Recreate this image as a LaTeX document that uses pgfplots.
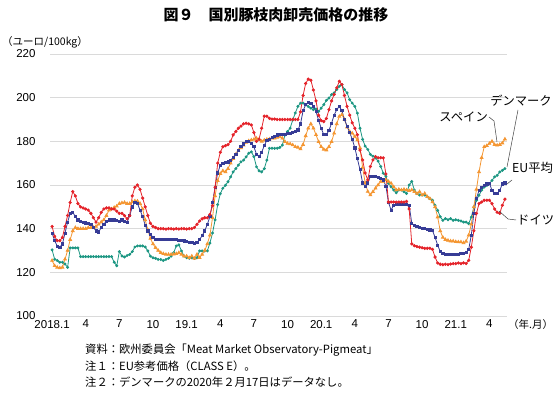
\documentclass[border=0pt]{standalone}
\usepackage{fontspec}
\setmainfont{Liberation Sans}
\newfontfamily\cjk{Noto Sans CJK JP}
\usepackage{pgfplots}
\pgfplotsset{compat=1.18}
\usepackage{pgfplotstable}
\definecolor{cde}{RGB}{228,35,42}
\definecolor{ceu}{RGB}{55,60,150}
\definecolor{ces}{RGB}{244,150,50}
\definecolor{cdk}{RGB}{28,150,130}
\definecolor{gridgray}{RGB}{218,218,218}
\pgfplotstableread{
w de eu es dk
0 141 138 125.4 130.3
1 136.5 134.5 123 126
2 134.5 132 122.3 125.4
3 134.5 131.5 122 124.6
4 136 133 122.3 124.6
5 141 138 126 123.8
6 146 143 130 122.3
7 152 147 135 131.2
8 157 147.5 139 131.2
9 155 145.5 140.5 131.2
10 151.5 144 140 131.2
11 150 143.5 140 127.2
12 149.5 143 140 127.2
13 149 142.6 140 127.2
14 148.5 142.5 140.5 127.2
15 147 142 140.5 127.2
16 145 140.5 140.5 127.2
17 143 139 141 127.2
18 145 138.5 142 127.2
19 147.5 140.5 143 127.2
20 149 142 144 127.2
21 149.5 143.5 146 127.2
22 149.5 144 148.5 127.2
23 149 144 149 127.2
24 149 144 149.7 124.6
25 148 143.8 150.3 123
26 147 143.5 151.5 129.5
27 147 144 151.8 127.5
28 146 143.5 152 127
29 144.5 143 151.5 127.7
30 146 146 151.5 128.2
31 155 150 152.2 129.5
32 159 152 152.7 131.6
33 160 151.5 152.6 132.1
34 158 148.5 151.5 132.1
35 154 145.5 149 132.1
36 150 141.5 144 131.6
37 146 139 139.5 129.8
38 142.5 137.5 135.5 127.4
39 141 136 133 126.7
40 140.5 135.2 131.3 126.4
41 140 135 130 125.9
42 140 135 129 125.9
43 140 135 128.5 125.4
44 139.8 135 128.2 125.9
45 140 134.9 128.2 126.4
46 140 134.9 128.2 127.4
47 139.8 135 128.3 129
48 140 134.9 128.5 132.1
49 139.8 134.8 129 132.6
50 140 134.7 128.2 129.8
51 140 134.4 127.4 127.4
52 139.8 134 127.4 126.7
53 140 133.7 126.7 126.4
54 140 133.6 127.4 126.7
55 140.5 133.3 126.4 126.4
56 142 133.6 128.2 126.7
57 143.5 135 126.7 129.8
58 144.5 136.8 128.2 129.8
59 145 139 130 129.8
60 145 142 133 129.8
61 146.5 145.5 137 133.4
62 150.5 152 145 138
63 159 159 155 144
64 170 165.5 162 151
65 175 169 165.2 156
66 177.5 169.8 166.5 158.5
67 178 170.2 166 159.9
68 178.5 170.6 167.5 161.5
69 180 171.4 170 163.7
70 183 172.6 172 166
71 184.5 174 174 167.5
72 186 175.8 175.8 169.1
73 187 177.5 177 170.6
74 188 178.8 178.2 171.4
75 188.3 179.8 179.5 172.9
76 188 179.8 180.2 174.5
77 187.5 179.2 180.6 175.2
78 184 177.5 180.9 173
79 180 174 181.4 168.3
80 181 173 180.8 166.5
81 186 175 180 166
82 191.5 178 180.5 167.5
83 191.5 180.5 180.9 171.4
84 190.5 181 181 176.8
85 190.2 181.8 181.4 176.8
86 190.2 182.4 181.4 176.8
87 190 182.9 181.8 176.8
88 190 183 182.2 177.2
89 190 183 181.4 178.3
90 190 183.2 179.8 182.9
91 190 183.7 179 184.5
92 190 183.7 178.8 186
93 190 184 178.3 189.8
94 190 184.5 177.5 193
95 190 185.2 177.2 196
96 193.5 188 176.5 197.5
97 201 194 178.5 197.5
98 206.5 196.8 182.5 196.8
99 208.5 197.8 186 196
100 208 197.5 188 195.2
101 203.5 196 186 194.5
102 198.5 193.7 183 194.8
103 192 189.5 179.8 193.7
104 189.5 186 177.5 195.2
105 189 183 176.3 196.8
106 190.5 183 176 198.8
107 194.5 185 177.5 199.8
108 198.5 188.3 179.8 201.4
109 201.5 192 183.7 202.2
110 204.5 194.5 188 203.7
111 207.5 196 191.4 205.2
112 206 194 192.2 206
113 201 190 190 203.7
114 196 187 186.5 202.2
115 192 184 184.5 199.1
116 188.5 181 183.7 197.5
117 186 177 182.2 196
118 183 172 180.6 192.9
119 176 167 177 186
120 171.5 161 168 180.9
121 165.5 159.5 161 177.8
122 162.3 161 157 176.3
123 168.5 163.9 155.4 174
124 171.5 163.9 156.9 173.2
125 173 163.9 158.5 172.4
126 172.5 163.6 160 170.9
127 172.5 163 161.6 168.5
128 172.4 162.3 161.6 165.4
129 165 159.5 162.3 163.9
130 152.2 152 161.6 160.8
131 152.2 148.5 160.8 159.2
132 152.2 150.7 159.2 157.7
133 152.2 151.2 157.7 156.4
134 152.2 151.2 158 157.7
135 152.2 151.2 157.7 157.7
136 152.2 151.2 158 156.9
137 152.5 151 157.7 156.1
138 149 150.7 157.4 160
139 133 142.5 157.7 161.6
140 132.2 141.4 156.9 157.7
141 131.8 140.9 156.1 156.1
142 131.5 140.6 156.9 155.4
143 131.3 140.3 155.4 155.4
144 131 140.3 156.1 155.4
145 131 139.8 154.6 154.6
146 131 139.4 153.8 153.8
147 130.5 139.2 152.2 153
148 127 136 150 150.7
149 124.3 132.5 145.3 148.4
150 123.7 129.5 139 145.5
151 123.5 128.5 136 143.8
152 123.7 128.2 135 144.6
153 123.5 128.2 134.6 144.1
154 123.8 128.2 134.3 144.6
155 124 128.3 134.3 143.8
156 124 128.2 134 144.1
157 124.3 128.3 133.9 143.8
158 124 128.5 133.9 143.5
159 124.3 128.5 133.5 143
160 124 129 134.2 143
161 125.5 130.5 137 142.3
162 131.5 137 142 145.3
163 139 147 150 149.9
164 147 154 158 153
165 151.5 157.5 166 155.3
166 152.2 159 172.5 157.6
167 153 159.8 177.5 159.1
168 153 160.5 178 159.8
169 153 160.9 179 160.6
170 151.5 157.5 180 162.1
171 149 156 178.5 163.7
172 147.5 156 178.2 164.4
173 147 157.5 178.5 166
174 150.7 160.5 179.2 166.7
175 153.5 161 181 167.5
}\data

\begin{document}
\begin{tikzpicture}[x=1pt,y=1pt]
\useasboundingbox (0,0) rectangle (558,393);
\begin{axis}[
  at={(50pt,77pt)}, anchor=south west,
  scale only axis, width=457pt, height=262pt,
  xmin=-0.8, xmax=175.8, ymin=100, ymax=220,
  axis line style={draw=none}, major tick length=0pt,
  ymajorgrids, grid style={color=gridgray, line width=0.9pt},
  ytick={100,120,...,220},
  xtick={0,13,...,169},
  xticklabels={2018.1,4,7,10,19.1,4,7,10,20.1,4,7,10,21.1,4},
  tick label style={font=\fontsize{11.5}{13}\selectfont},
  /pgf/number format/assume math mode=true,
  yticklabel style={xshift=-11pt},
  xticklabel style={yshift=-0.5pt},
  clip=false,
]
\addplot[cdk, line width=0.8pt, mark=*, mark size=1.05pt] table[x=w,y=dk]{\data};
\addplot[ces, line width=0.8pt, mark=triangle*, mark size=1.6pt] table[x=w,y=es]{\data};
\addplot[ceu, line width=0.8pt, mark=square*, mark size=1.1pt] table[x=w,y=eu]{\data};
\addplot[cde, line width=0.8pt, mark=*, mark size=1.2pt] table[x=w,y=de]{\data};
\end{axis}
% title and labels
\node at (276,378) {\cjk\bfseries\fontsize{15}{17}\selectfont 図９　国別豚枝肉卸売価格の推移};
\node[anchor=west, inner sep=0pt] at (2,351) {\cjk\fontsize{10.5}{12}\selectfont （ユーロ/100kg）};
\node[anchor=west, inner sep=0pt] at (508,68) {\cjk\fontsize{10.5}{12}\selectfont （年.月）};
\node[anchor=west, inner sep=0pt] at (85,43) {\cjk\fontsize{11.3}{13}\selectfont 資料：欧州委員会「Meat Market Observatory-Pigmeat」};
\node[anchor=west, inner sep=0pt] at (85,27) {\cjk\fontsize{11.3}{13}\selectfont 注１：EU参考価格（CLASS E）。};
\node[anchor=west, inner sep=0pt] at (85,11) {\cjk\fontsize{11.3}{13}\selectfont 注２：デンマークの2020年２月17日はデータなし。};
% annotations
\draw[black!75, line width=0.5pt] (489,276) -- (494,272) -- (497,251);
\node[anchor=east, inner sep=0pt] at (488,276) {\cjk\fontsize{12.3}{13}\selectfont スペイン};
\draw[black!75, line width=0.5pt] (518,283) -- (507,226);
\node[inner sep=0pt] at (521,292) {\cjk\fontsize{12.3}{13}\selectfont デンマーク};
\draw[black!75, line width=0.5pt] (512,213) -- (507,209);
\node[anchor=west, inner sep=0pt] at (512,225) {\cjk\fontsize{12.3}{13}\selectfont EU平均};
\draw[black!75, line width=0.5pt] (499,182) -- (508,174) -- (516,173);
\node[anchor=west, inner sep=0pt] at (517,173) {\cjk\fontsize{12.3}{13}\selectfont ドイツ};
\end{tikzpicture}
\end{document}
